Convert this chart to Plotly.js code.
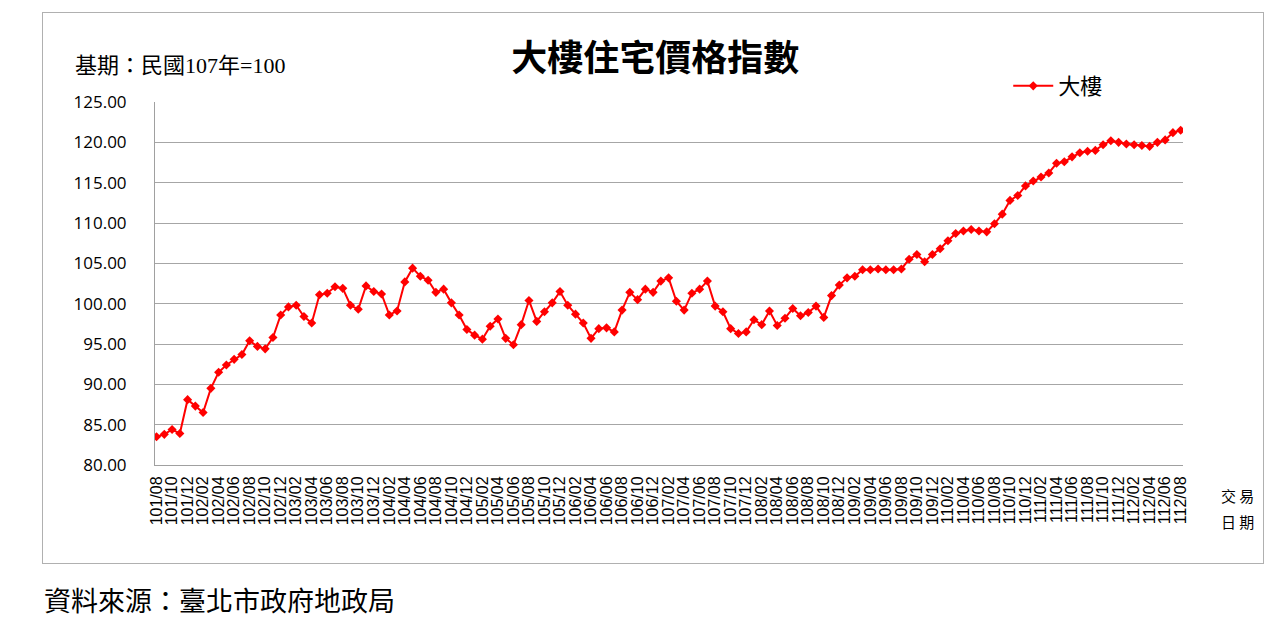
<!DOCTYPE html>
<html><head><meta charset="utf-8">
<script src="https://cdn.plot.ly/plotly-3.0.1.min.js"></script>
<style>
html,body{margin:0;padding:0;background:#fff;}
#wrap{position:relative;width:1280px;height:624px;}
#chart{position:absolute;left:0;top:0;width:1280px;height:624px;}
#frame{position:absolute;left:42px;top:12px;width:1220px;height:550px;border:1px solid #b0b0b0;pointer-events:none;}
</style></head>
<body>
<div id="wrap"><div id="chart"></div><div id="frame"></div></div>
<script>
// months 101/08 .. 112/08
const months = [];
for (let y = 101, m = 8; y < 112 || (y === 112 && m <= 8); ) {
  months.push(y + '/' + String(m).padStart(2, '0'));
  m++; if (m > 12) { m = 1; y++; }
}
const indexValues = [
  83.5, 83.8, 84.4, 83.9, 88.1, 87.3, 86.5, 89.5, 91.5, 92.4, 93.1, 93.7,
  95.4, 94.7, 94.4, 95.8, 98.6, 99.6, 99.8, 98.4, 97.6, 101.1, 101.3, 102.1,
  101.9, 99.8, 99.3, 102.2, 101.5, 101.2, 98.6, 99.1, 102.7, 104.4, 103.4, 102.9,
  101.4, 101.8, 100.1, 98.6, 96.8, 96.1, 95.6, 97.2, 98.1, 95.7, 94.9, 97.4,
  100.4, 97.8, 99.0, 100.1, 101.5, 99.8, 98.7, 97.6, 95.7, 96.9, 97.0, 96.5,
  99.2, 101.4, 100.5, 101.8, 101.4, 102.8, 103.2, 100.3, 99.2, 101.3, 101.8, 102.8,
  99.7, 99.0, 96.9, 96.3, 96.5, 98.0, 97.4, 99.1, 97.3, 98.2, 99.4, 98.5,
  98.9, 99.7, 98.3, 101.0, 102.3, 103.2, 103.4, 104.2, 104.2, 104.3, 104.2, 104.2,
  104.3, 105.5, 106.1, 105.2, 106.1, 106.8, 107.8, 108.7, 109.0, 109.2, 109.0, 108.9,
  109.9, 111.1, 112.8, 113.4, 114.6, 115.2, 115.7, 116.2, 117.4, 117.6, 118.2, 118.7,
  118.9, 119.0, 119.7, 120.2, 120.0, 119.8, 119.7, 119.6, 119.5, 120.0, 120.3, 121.2,
  121.5
];
const tickLabels = months.filter((_, i) => i % 2 === 0);
const yTicks = [80, 85, 90, 95, 100, 105, 110, 115, 120, 125];
const seriesName = '大樓';

const trace = {
  type: 'scatter', mode: 'lines+markers', name: seriesName,
  x: months, y: indexValues,
  line: {color: '#ff0000', width: 2},
  marker: {symbol: 'diamond', size: 7, color: '#ff0000'}
};
const cjk = '"Noto Sans CJK TC", "Noto Sans", sans-serif';
const serifCjk = '"Liberation Serif", "Noto Sans CJK TC", serif';
const layout = {
  width: 1280, height: 624,
  margin: {l: 155, r: 97, t: 102, b: 159},
  paper_bgcolor: '#fff', plot_bgcolor: '#fff',
  showlegend: true,
  legend: {x: 0.83, y: 1.044, xanchor: 'left', yanchor: 'middle', bgcolor: 'rgba(0,0,0,0)',
           itemwidth: 40, font: {family: cjk, size: 22, color: '#000'}},
  title: {text: '<b>大樓住宅價格指數</b>', x: 0.512, xanchor: 'center', y: 0.907, yanchor: 'middle',
          font: {family: cjk, size: 36, color: '#000'}},
  xaxis: {
    type: 'category', range: [-0.2, 132.3],
    tickmode: 'array', tickvals: tickLabels, ticktext: tickLabels,
    tickangle: -90, tickfont: {family: 'Liberation Sans, Arial, sans-serif', size: 16, color: '#000'},
    showgrid: false, showline: true, linecolor: '#a0a0a0', linewidth: 1,
    ticks: '', ticklabelstandoff: 4, fixedrange: true
  },
  yaxis: {
    range: [80, 125], tickmode: 'array', tickvals: yTicks,
    ticktext: yTicks.map(v => v.toFixed(2)),
    tickfont: {family: 'Open Sans, Liberation Sans, sans-serif', size: 17, color: '#000'},
    showgrid: true, gridcolor: '#a6a6a6', gridwidth: 1,
    showline: true, linecolor: '#a0a0a0', linewidth: 1, zeroline: false,
    ticks: '', ticklabelstandoff: 24, fixedrange: true
  },
  annotations: [
    {text: '基期：民國107年=100', xref: 'paper', yref: 'paper', x: -0.08, y: 1.1, xanchor: 'left', yanchor: 'middle',
     showarrow: false, font: {family: serifCjk, size: 22, color: '#000'}},
    {text: '交 易', xref: 'paper', yref: 'paper', x: 1.035, y: -0.085, xanchor: 'left', yanchor: 'middle',
     showarrow: false, font: {family: cjk, size: 15, color: '#000'}},
    {text: '日 期', xref: 'paper', yref: 'paper', x: 1.035, y: -0.155, xanchor: 'left', yanchor: 'middle',
     showarrow: false, font: {family: cjk, size: 15, color: '#000'}},
    {text: '資料來源：臺北市政府地政局', xref: 'paper', yref: 'paper', x: -0.11, y: -0.37, xanchor: 'left', yanchor: 'middle',
     showarrow: false, font: {family: cjk, size: 27, color: '#000'}}
  ]
};
Plotly.newPlot('chart', [trace], layout, {displayModeBar: false, staticPlot: true});
</script>
</body></html>
